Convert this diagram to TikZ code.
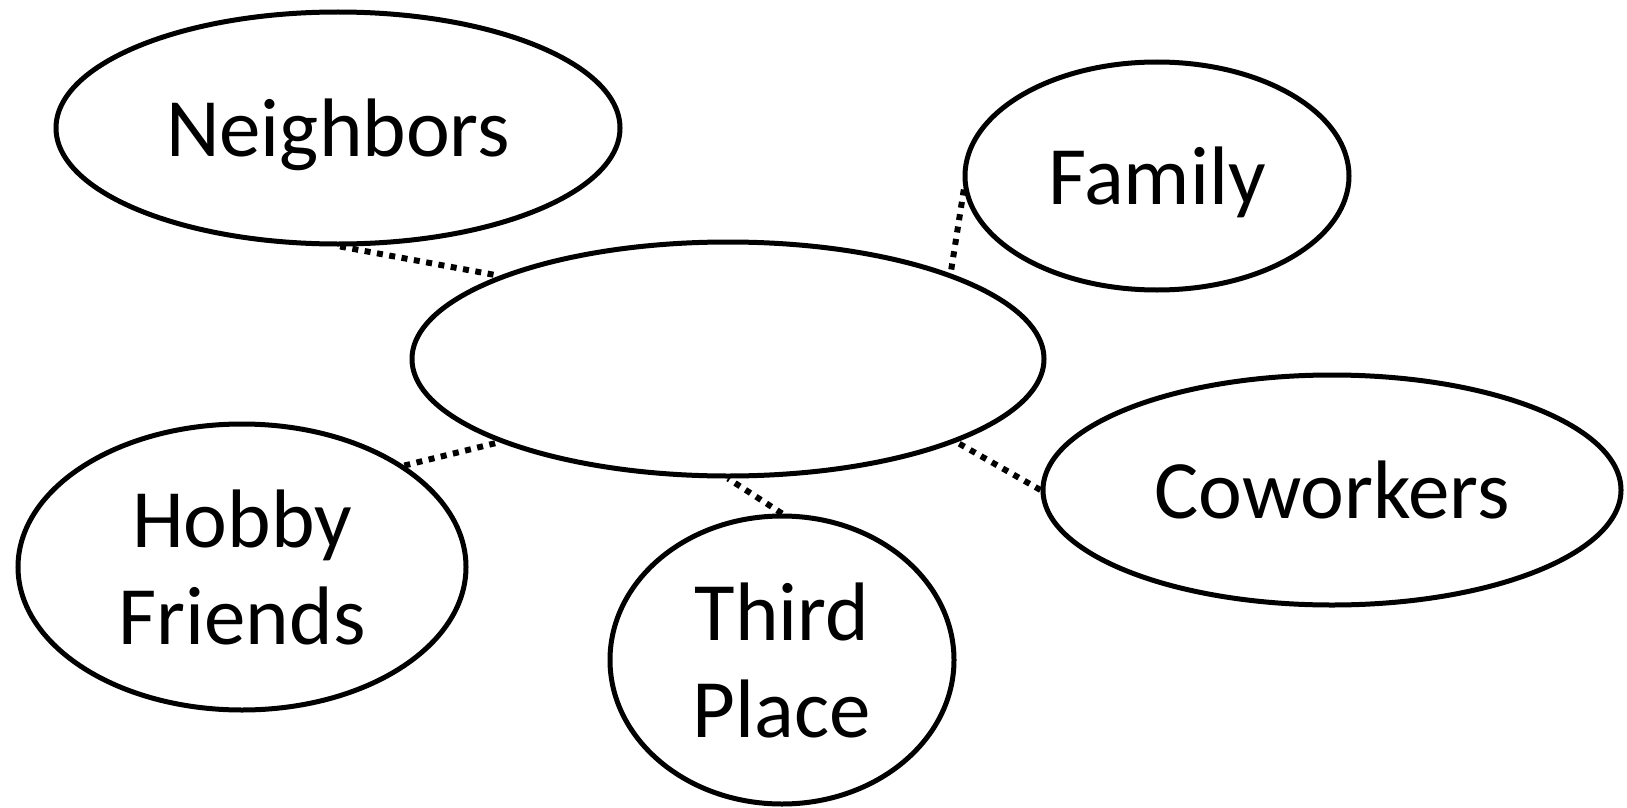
\documentclass[tikz,border=0pt]{standalone}
\usepackage{fontspec}
\setmainfont{Carlito}
\usetikzlibrary{shapes.geometric}
\tikzset{
	bubble/.style={draw=black, ellipse, line width=5pt, inner sep=0pt, align=center, font=\fontsize{83}{97}\selectfont},
	word/.style={text depth=0pt},
	tie/.style={draw=black, line width=6pt, dash pattern=on 6pt off 6.5pt},
}
\begin{document}
\begin{tikzpicture}[x=1pt, y=-1pt]
	\useasboundingbox (0,0) rectangle (1627,808);
	\node[bubble, word, minimum width=564pt, minimum height=232pt] (neighbors) at (338,128) {Neighbors};
	\node[bubble, word, minimum width=384pt, minimum height=228pt] (family) at (1157,176) {Family};
	\node[bubble, minimum width=632pt, minimum height=234pt] (hub) at (728,359) {};
	\node[bubble, word, minimum width=578pt, minimum height=230pt] (coworkers) at (1332,490) {Coworkers};
	\node[bubble, minimum width=448pt, minimum height=286pt] (hobby) at (242,567) {Hobby\\Friends};
	\node[bubble, minimum width=344pt, minimum height=288pt] (third) at (782,660) {Third\\Place};
	\draw[tie] (neighbors.-89) -- (hub.160);
	\draw[tie] (family.184) -- (hub.21);
	\draw[tie] (hobby.32) -- (hub.200);
	\draw[tie] (third.north) -- (hub.south);
	\draw[tie] (coworkers.west) -- (hub.-20);
\end{tikzpicture}
\end{document}
